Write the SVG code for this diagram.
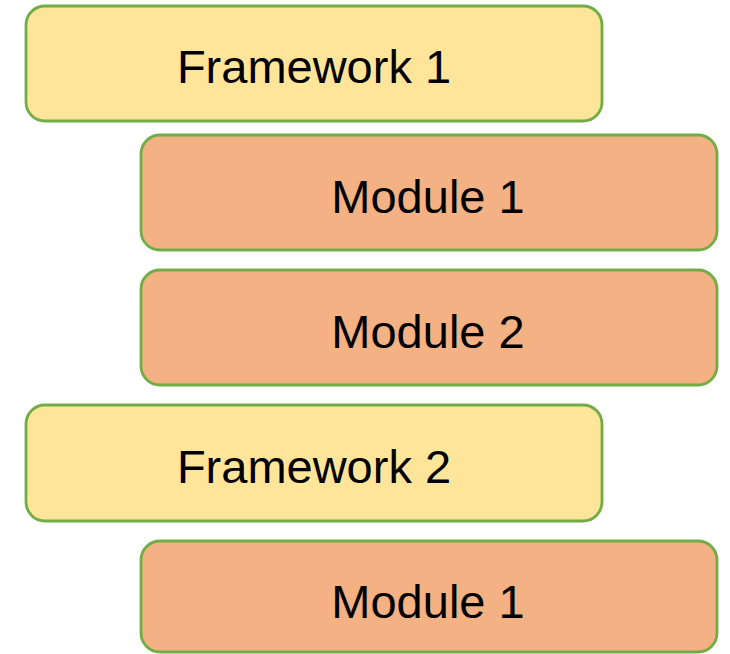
<svg xmlns="http://www.w3.org/2000/svg" width="730" height="654" viewBox="0 0 730 654">
  <style>
    .box { stroke: #70ad47; stroke-width: 2.8; }
    .fw { fill: #ffe599; }
    .mod { fill: #f4b183; }
    .lbl { font-family: "Liberation Sans", Arial, sans-serif; font-size: 47px; fill: #000; text-anchor: middle; }
  </style>
  <rect width="730" height="654" fill="#ffffff"/>
  <g id="framework1">
    <rect class="box fw" x="26" y="6" width="576" height="115" rx="19" ry="19"/>
    <text class="lbl" x="314" y="83">Framework 1</text>
  </g>
  <g id="framework1-module1">
    <rect class="box mod" x="141" y="135" width="576" height="115" rx="19" ry="19"/>
    <text class="lbl" x="428" y="213">Module 1</text>
  </g>
  <g id="framework1-module2">
    <rect class="box mod" x="141" y="270" width="576" height="115" rx="19" ry="19"/>
    <text class="lbl" x="428" y="348">Module 2</text>
  </g>
  <g id="framework2">
    <rect class="box fw" x="26" y="405" width="576" height="116" rx="19" ry="19"/>
    <text class="lbl" x="314" y="483">Framework 2</text>
  </g>
  <g id="framework2-module1">
    <rect class="box mod" x="141" y="541" width="576" height="111" rx="19" ry="19"/>
    <text class="lbl" x="428" y="618">Module 1</text>
  </g>
  <g id="connectors"/>
</svg>
